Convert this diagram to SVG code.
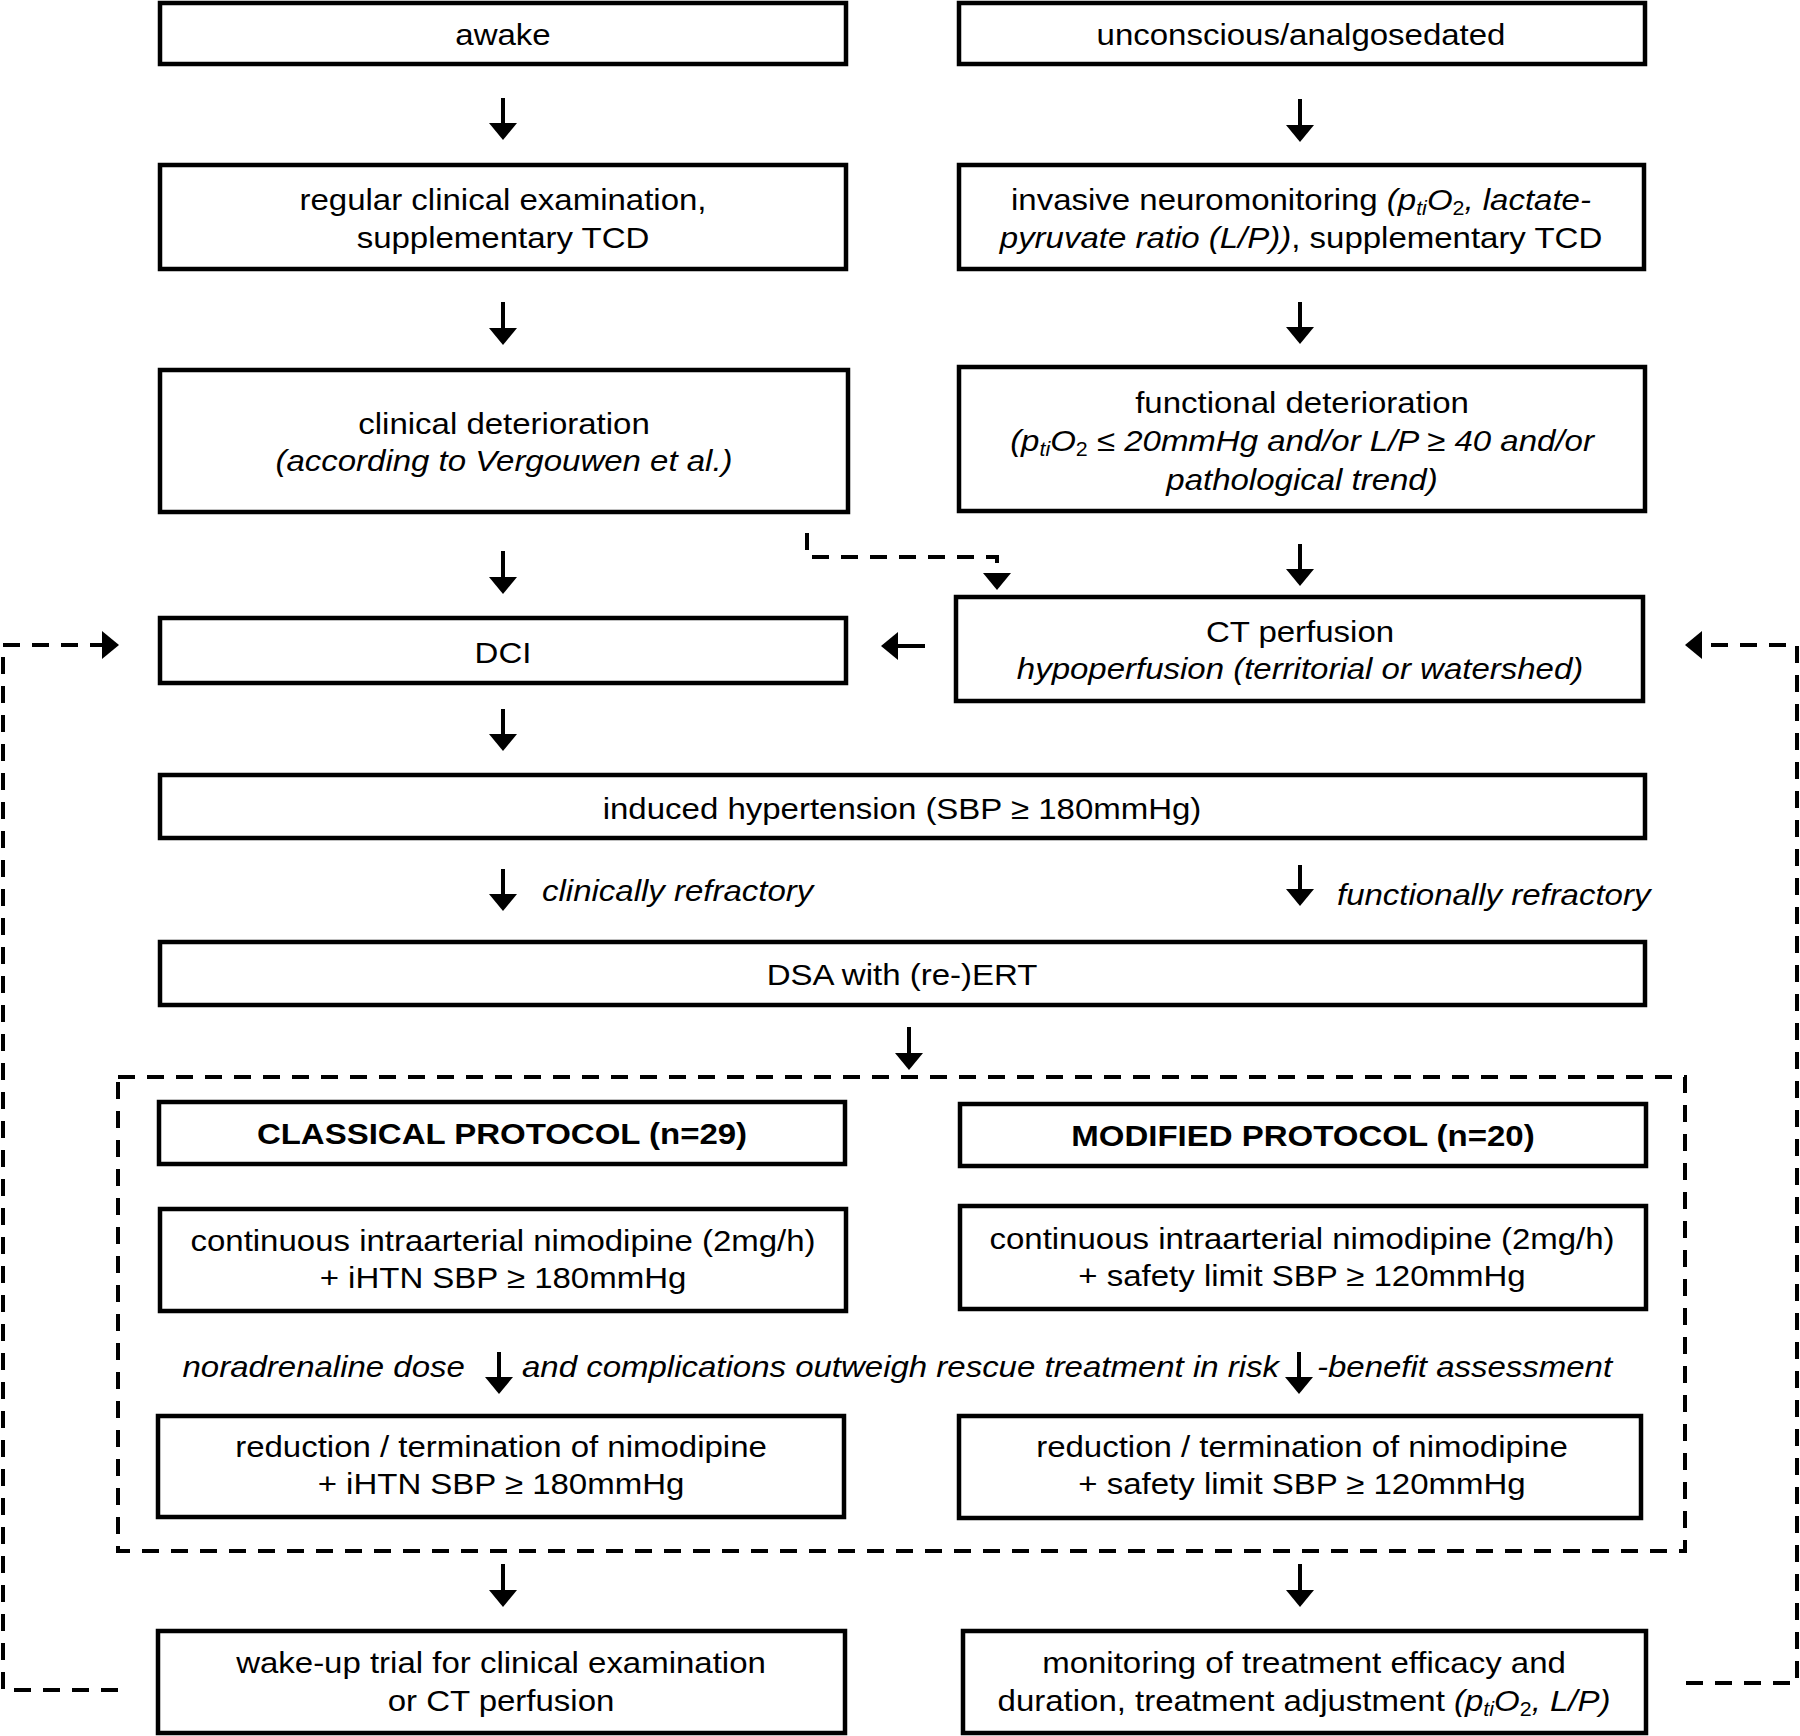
<svg xmlns="http://www.w3.org/2000/svg" width="1800" height="1736" viewBox="0 0 1800 1736">
<style>
.box{fill:#fff;stroke:#000;stroke-width:4.5}
.cont{fill:none;stroke:#000;stroke-width:4;stroke-dasharray:17 12}
.t{font-family:"Liberation Sans",Arial,sans-serif;font-size:30px;fill:#000}
.i{font-style:italic}
.n{font-style:normal}
.b{font-weight:bold}
.s{font-size:19.5px}
.c{fill:none;stroke:#000;stroke-width:4}
.d{stroke-dasharray:17 12}
</style>
<defs>
<marker id="ah" markerUnits="userSpaceOnUse" markerWidth="18" markerHeight="28" viewBox="0 -14 18 28" refX="0" refY="0" orient="auto"><path d="M0,-14 L17,0 L0,14 z" fill="#000"/></marker>
</defs>
<rect width="1800" height="1736" fill="#fff"/>

<g id="protocols">
<rect class="cont" x="118" y="1077" width="1567" height="474"/>
</g>

<g id="awake"><rect class="box" x="160" y="3" width="686" height="61"/>
<text class="t" text-anchor="middle" transform="translate(503,44.5) scale(1.1,1)">awake</text></g>

<g id="unconscious"><rect class="box" x="959" y="3" width="686" height="61"/>
<text class="t" text-anchor="middle" transform="translate(1301,44.5) scale(1.1,1)">unconscious/analgosedated</text></g>

<g id="regular"><rect class="box" x="160" y="165" width="686" height="104"/>
<text class="t" text-anchor="middle" transform="translate(503,210) scale(1.1,1)"><tspan x="0" y="0">regular clinical examination,</tspan><tspan x="0" y="38.5">supplementary TCD</tspan></text></g>

<g id="invasive"><rect class="box" x="959" y="165" width="685" height="104"/>
<text class="t" text-anchor="middle" transform="translate(1301,209.5) scale(1.1,1)"><tspan x="0" y="0">invasive neuromonitoring </tspan><tspan class="i">(p</tspan><tspan class="i s" dy="5">ti</tspan><tspan class="i" dy="-5">O</tspan><tspan class="s" dy="5">2</tspan><tspan class="i" dy="-5">, lactate-</tspan><tspan class="i" x="0" y="38.5">pyruvate ratio (L/P))</tspan><tspan>, supplementary TCD</tspan></text></g>

<g id="clinical-deterioration"><rect class="box" x="160" y="370" width="688" height="142"/>
<text class="t" text-anchor="middle" transform="translate(504,433.5) scale(1.1,1)"><tspan x="0" y="0">clinical deterioration</tspan><tspan class="i" x="0" y="38">(according to Vergouwen et al.)</tspan></text></g>

<g id="functional-deterioration"><rect class="box" x="959" y="367" width="686" height="144"/>
<text class="t" text-anchor="middle" transform="translate(1302,412.5) scale(1.1,1)"><tspan x="0" y="0">functional deterioration</tspan><tspan class="i" x="0" y="39">(p</tspan><tspan class="i s" dy="5">ti</tspan><tspan class="i" dy="-5">O</tspan><tspan class="s" dy="5">2</tspan><tspan class="i" dy="-5"> ≤ 20mmHg and/or L/P ≥ 40 and/or</tspan><tspan class="i" x="0" y="77.5">pathological trend)</tspan></text></g>

<g id="dci"><rect class="box" x="160" y="618" width="686" height="65"/>
<text class="t" text-anchor="middle" transform="translate(503,662.5) scale(1.1,1)">DCI</text></g>

<g id="ct-perfusion"><rect class="box" x="956" y="597" width="687" height="104"/>
<text class="t" text-anchor="middle" transform="translate(1300,641.5) scale(1.1,1)"><tspan x="0" y="0">CT perfusion</tspan><tspan class="i" x="0" y="37.5">hypoperfusion (territorial or watershed)</tspan></text></g>

<g id="induced-hypertension"><rect class="box" x="160" y="775" width="1485" height="63"/>
<text class="t" text-anchor="middle" transform="translate(902,818.5) scale(1.1,1)">induced hypertension (SBP ≥ 180mmHg)</text></g>

<g id="dsa"><rect class="box" x="160" y="942" width="1485" height="63"/>
<text class="t" text-anchor="middle" transform="translate(902,984.5) scale(1.1,1)">DSA with (re-)ERT</text></g>

<g id="classical"><rect class="box" x="159" y="1102" width="686" height="62"/>
<text class="t b" text-anchor="middle" transform="translate(502,1143.5) scale(1.1,1)">CLASSICAL PROTOCOL (n=29)</text></g>

<g id="modified"><rect class="box" x="960" y="1104" width="686" height="62"/>
<text class="t b" text-anchor="middle" transform="translate(1303,1145.5) scale(1.1,1)">MODIFIED PROTOCOL (n=20)</text></g>

<g id="continuous-classical"><rect class="box" x="160" y="1209" width="686" height="102"/>
<text class="t" text-anchor="middle" transform="translate(503,1250.5) scale(1.1,1)"><tspan x="0" y="0">continuous intraarterial nimodipine (2mg/h)</tspan><tspan x="0" y="38">+ iHTN SBP ≥ 180mmHg</tspan></text></g>

<g id="continuous-modified"><rect class="box" x="960" y="1206" width="686" height="103"/>
<text class="t" text-anchor="middle" transform="translate(1302,1248.5) scale(1.1,1)"><tspan x="0" y="0">continuous intraarterial nimodipine (2mg/h)</tspan><tspan x="0" y="38">+ safety limit SBP ≥ 120mmHg</tspan></text></g>

<g id="reduction-classical"><rect class="box" x="158" y="1416" width="686" height="101"/>
<text class="t" text-anchor="middle" transform="translate(501,1456.5) scale(1.1,1)"><tspan x="0" y="0">reduction / termination of nimodipine</tspan><tspan x="0" y="38">+ iHTN SBP ≥ 180mmHg</tspan></text></g>

<g id="reduction-modified"><rect class="box" x="959" y="1416" width="682" height="102"/>
<text class="t" text-anchor="middle" transform="translate(1302,1456.5) scale(1.1,1)"><tspan x="0" y="0">reduction / termination of nimodipine</tspan><tspan x="0" y="38">+ safety limit SBP ≥ 120mmHg</tspan></text></g>

<g id="wake-up"><rect class="box" x="158" y="1631" width="687" height="102"/>
<text class="t" text-anchor="middle" transform="translate(501,1672.5) scale(1.1,1)"><tspan x="0" y="0">wake-up trial for clinical examination</tspan><tspan x="0" y="38.5">or CT perfusion</tspan></text></g>

<g id="monitoring"><rect class="box" x="963" y="1631" width="683" height="102"/>
<text class="t" text-anchor="middle" transform="translate(1304,1672.5) scale(1.1,1)"><tspan x="0" y="0">monitoring of treatment efficacy and</tspan><tspan x="0" y="38.5">duration, treatment adjustment </tspan><tspan class="i">(p</tspan><tspan class="i s" dy="5">ti</tspan><tspan class="i" dy="-5">O</tspan><tspan class="s" dy="5">2</tspan><tspan class="i" dy="-5">, L/P)</tspan></text></g>

<g id="connectors">
<path class="c" marker-end="url(#ah)" d="M503,98 V123"/>
<path class="c" marker-end="url(#ah)" d="M1300,99 V125"/>
<path class="c" marker-end="url(#ah)" d="M503,302 V328"/>
<path class="c" marker-end="url(#ah)" d="M1300,302 V327"/>
<path class="c" marker-end="url(#ah)" d="M503,551 V577"/>
<path class="c" marker-end="url(#ah)" d="M1300,544 V569"/>
<path class="c" marker-end="url(#ah)" d="M503,709 V734"/>
<path class="c" marker-end="url(#ah)" d="M503,869 V894"/>
<path class="c" marker-end="url(#ah)" d="M1300,865 V889"/>
<path class="c" marker-end="url(#ah)" d="M909,1027 V1053"/>
<path class="c" marker-end="url(#ah)" d="M499,1352 V1377"/>
<path class="c" marker-end="url(#ah)" d="M1299,1352 V1377"/>
<path class="c" marker-end="url(#ah)" d="M503,1564 V1590"/>
<path class="c" marker-end="url(#ah)" d="M1300,1564 V1590"/>
<path class="c" marker-end="url(#ah)" d="M925,646 H898"/>
<path class="c d" marker-end="url(#ah)" d="M807,533 V557 H997 V573"/>
<path class="c d" marker-end="url(#ah)" d="M118,1690 H3 V645 H102"/>
<path class="c d" marker-end="url(#ah)" d="M1686,1683 H1797 V645 H1702"/>
</g>

<g id="labels">
<text class="t i" transform="translate(542,900.5) scale(1.1,1)">clinically refractory</text>
<text class="t i" transform="translate(1337,904.5) scale(1.1,1)">functionally refractory</text>
<text class="t i" transform="translate(182.5,1376.5) scale(1.1,1)">noradrenaline dose</text>
<text class="t i" transform="translate(522,1376.5) scale(1.1,1)">and complications outweigh rescue treatment in risk</text>
<text class="t i" transform="translate(1317,1376.5) scale(1.1,1)">-benefit assessment</text>
</g>
</svg>
